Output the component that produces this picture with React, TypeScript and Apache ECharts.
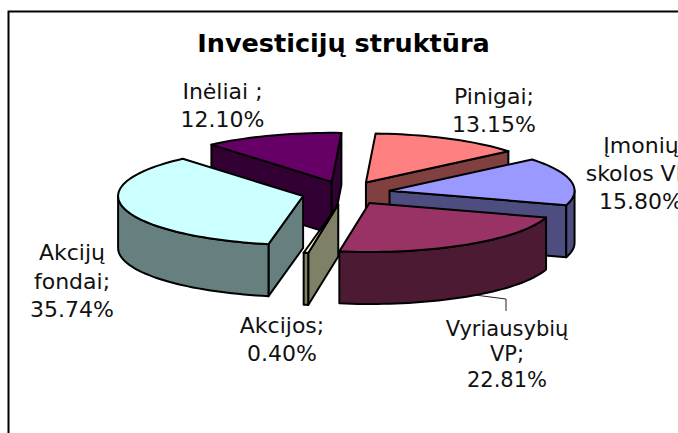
import React, { useEffect, useRef } from "react";
import * as echarts from "echarts";

const sliceNames = ["Pinigai", "Įmonių\nskolos VP", "Vyriausybių\nVP", "Akcijos", "Akcijų\nfondai", "Inėliai "];
const sliceValues = [13.15, 15.8, 22.81, 0.4, 35.74, 12.1];
const topColors = ["#FF8080", "#9999FF", "#993366", "#FFFFCC", "#CCFFFF", "#660066"];
const wallColors = ["#804040", "#4D4D80", "#4D1A33", "#808066", "#668080", "#330033"];
const titleText = "Investicijų struktūra";

const CX = 346, CY = 193, RX = 185, RY = 49, DEPTH = 52, EXPLODE = 0.24, START_DEG = 3;
const labelAnchors = [
  { x: 494, y: 110, size: 22, lh: 28 },
  { x: 641, y: 173, size: 22, lh: 28 },
  { x: 507, y: 354, size: 21, lh: 25.5 },
  { x: 282, y: 339, size: 22, lh: 28 },
  { x: 72, y: 281, size: 22, lh: 28.5 },
  { x: 222.5, y: 105, size: 22, lh: 28 },
];

const rad = (d: number) => (d * Math.PI) / 180;
const total = sliceValues.reduce((a, b) => a + b, 0);

function sliceAngles(i: number) {
  let s = START_DEG;
  for (let k = 0; k < i; k++) s += (sliceValues[k] / total) * 360;
  return [s, s + (sliceValues[i] / total) * 360];
}

function renderSlice(params: any) {
  const i = params.dataIndex;
  const [a0, a1] = sliceAngles(i);
  const mid = (a0 + a1) / 2;
  const ax = CX + RX * EXPLODE * Math.sin(rad(mid));
  const ay = CY - RY * EXPLODE * Math.cos(rad(mid));
  const pt = (deg: number, dy = 0) => [ax + RX * Math.sin(rad(deg)), ay - RY * Math.cos(rad(deg)) + dy];
  const arc = (from: number, to: number, dy = 0) => {
    const n = Math.max(2, Math.ceil((to - from) / 2));
    const out: number[][] = [];
    for (let k = 0; k <= n; k++) out.push(pt(from + ((to - from) * k) / n, dy));
    return out;
  };
  const z = Math.round((1 - Math.cos(rad(mid))) * 100) * 10;
  const wall = { fill: wallColors[i], stroke: "#000", lineWidth: 2, lineJoin: "round" };
  const children: any[] = [];
  const radial = (deg: number, z2: number) =>
    children.push({
      type: "polygon", z2,
      shape: { points: [[ax, ay], pt(deg), pt(deg, DEPTH), [ax, ay + DEPTH]] },
      style: wall,
    });
  if (Math.sin(rad(a0)) < 0) radial(a0, z + 1);
  if (Math.sin(rad(a1)) > 0) radial(a1, z + 1);
  const f0 = Math.max(a0, 90), f1 = Math.min(a1, 270);
  if (f1 > f0) {
    children.push({
      type: "polygon", z2: z + 2,
      shape: { points: [...arc(f0, f1), ...arc(f0, f1, DEPTH).reverse()] },
      style: wall,
    });
  }
  children.push({
    type: "polygon", z2: z + 3,
    shape: { points: [[ax, ay], ...arc(a0, a1)] },
    style: { fill: topColors[i], stroke: "#000", lineWidth: 2, lineJoin: "round" },
  });
  return { type: "group", children };
}

export default function App() {
  const ref = useRef<HTMLDivElement>(null);
  useEffect(() => {
    document.body.style.margin = "0";
    const chart = echarts.init(ref.current!, null, { renderer: "svg" });
    chart.setOption({
      animation: false,
      backgroundColor: "#fff",
      series: [
        {
          type: "custom",
          coordinateSystem: "none",
          silent: true,
          data: sliceValues,
          renderItem: renderSlice,
        },
      ],
      graphic: [
        {
          type: "rect", z: -1,
          shape: { x: 8.5, y: 11.5, width: 900, height: 700 },
          style: { fill: "#fff", stroke: "#000", lineWidth: 2 },
        },
        {
          type: "polyline", z: 1,
          shape: { points: [[475, 295], [506, 299], [506, 311]] },
          style: { fill: "none", stroke: "#222", lineWidth: 1 },
        },
        {
          type: "text", z: 5, x: 343.5, y: 43,
          style: {
            text: titleText, fill: "#000", align: "center", verticalAlign: "middle",
            font: "bold 25.5px 'DejaVu Sans'",
          },
        },
        ...sliceNames.map((name, i) => {
          const p = labelAnchors[i];
          return {
            type: "text", z: 5, x: p.x, y: p.y,
            style: {
              text: `${name};\n${sliceValues[i].toFixed(2)}%`,
              fill: "#111", align: "center", verticalAlign: "middle",
              font: `${p.size}px 'DejaVu Sans'`, lineHeight: p.lh,
            },
          };
        }),
      ],
    });
    return () => chart.dispose();
  }, []);
  return <div ref={ref} style={{ position: "absolute", left: 0, top: 0, width: 678, height: 433 }} />;
}
